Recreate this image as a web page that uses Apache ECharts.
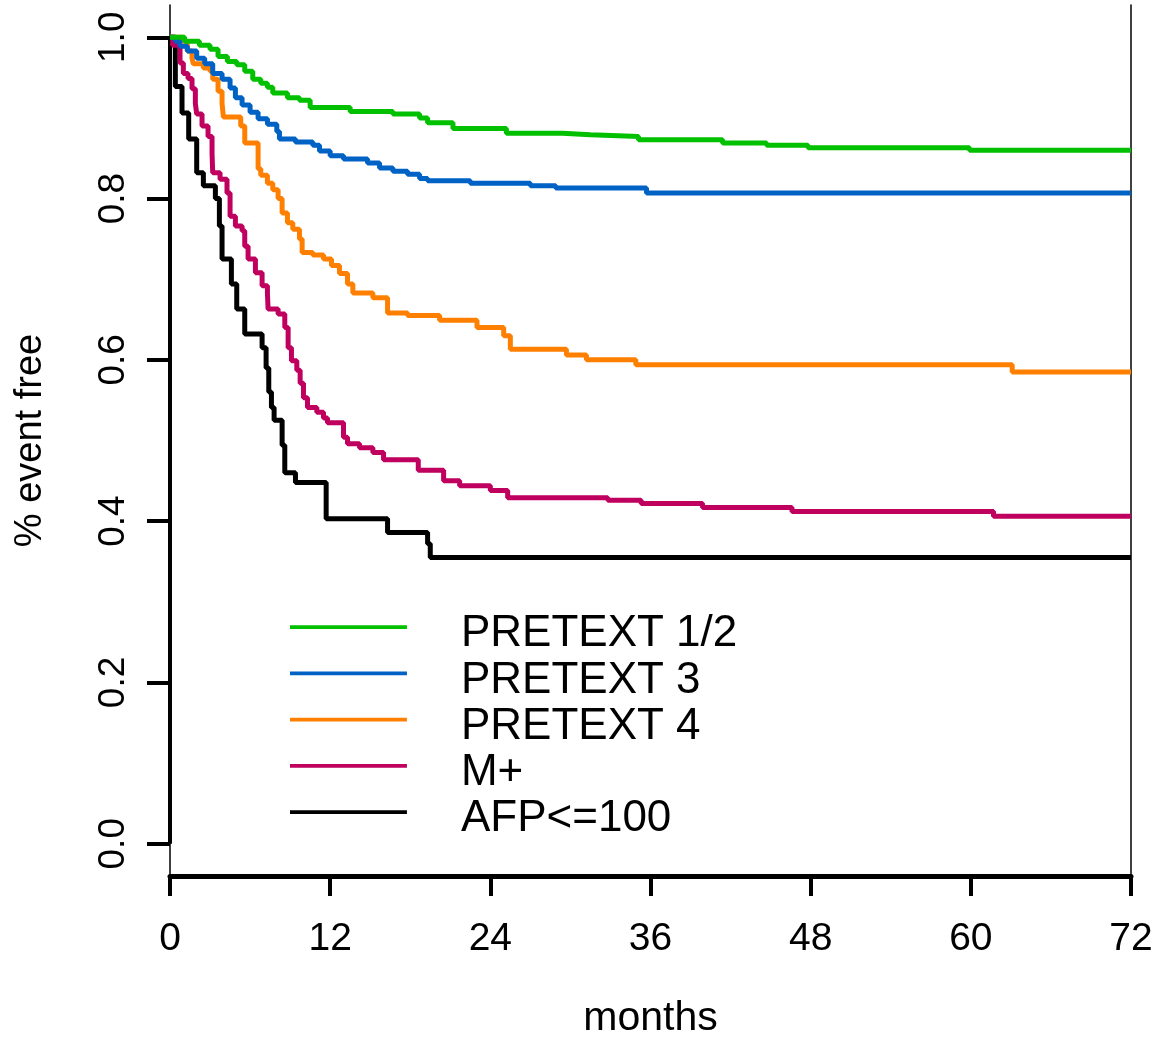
<!DOCTYPE html>
<html>
<head>
<meta charset="utf-8">
<script src="https://cdn.jsdelivr.net/npm/echarts@6/dist/echarts.min.js"></script>
<style>html,body{margin:0;padding:0;background:#fff}#chart{width:1163px;height:1037px}</style>
</head>
<body>
<div id="chart"></div>
<script>
// ---- data ----
const xTicks = [0, 12, 24, 36, 48, 60, 72];
const yTicks = [0, 0.2, 0.4, 0.6, 0.8, 1.0];
const seriesNames = ['PRETEXT 1/2', 'PRETEXT 3', 'PRETEXT 4', 'M+', 'AFP<=100'];
const seriesColors = ['#00c000', '#0062c4', '#ff8000', '#c0005f', '#000000'];

const p12Months = [0, 1.1, 2.2, 3.0, 3.6, 4.3, 5.0, 5.6, 6.2, 6.8, 7.3, 7.7, 8.8, 9.7, 10.5, 13.5, 16.7, 18.7, 19.3, 21.2, 25.2, 29.4, 31.5, 35.1, 41.4, 44.7, 47.8, 59.9, 72];
const p12Surv   = [1.0, 0.995, 0.99, 0.985, 0.976, 0.970, 0.966, 0.958, 0.948, 0.943, 0.938, 0.931, 0.925, 0.922, 0.913, 0.908, 0.905, 0.900, 0.894, 0.887, 0.881, 0.879, 0.877, 0.873, 0.869, 0.866, 0.863, 0.860, 0.860];

const p3Months = [0, 0.4, 0.75, 1.3, 2.0, 2.6, 3.2, 3.9, 4.5, 4.9, 5.4, 6.0, 6.6, 7.3, 8.0, 8.2, 9.4, 10.7, 11.2, 12.0, 13.0, 14.8, 15.7, 16.7, 17.8, 18.7, 19.3, 22.5, 27.0, 28.9, 35.7, 72];
const p3Surv   = [1.0, 0.995, 0.989, 0.983, 0.974, 0.967, 0.955, 0.948, 0.937, 0.925, 0.916, 0.907, 0.899, 0.892, 0.883, 0.874, 0.870, 0.866, 0.859, 0.853, 0.849, 0.844, 0.838, 0.834, 0.830, 0.825, 0.822, 0.819, 0.816, 0.813, 0.807, 0.807];

const p4Months = [0, 1.0, 1.3, 1.65, 1.75, 2.5, 3.0, 3.2, 3.6, 3.9, 4.0, 5.3, 5.6, 6.6, 6.8, 7.3, 7.7, 8.1, 8.4, 8.8, 9.2, 9.7, 9.9, 10.7, 11.5, 12.1, 12.7, 13.3, 13.7, 15.2, 16.3, 17.8, 20.2, 23.0, 25.0, 25.5, 29.7, 31.2, 34.9, 63.1, 72];
const p4Surv   = [1.0, 0.995, 0.983, 0.974, 0.967, 0.962, 0.958, 0.948, 0.933, 0.918, 0.901, 0.890, 0.869, 0.837, 0.829, 0.819, 0.811, 0.800, 0.782, 0.770, 0.762, 0.750, 0.733, 0.730, 0.725, 0.717, 0.707, 0.694, 0.683, 0.677, 0.658, 0.655, 0.649, 0.640, 0.630, 0.613, 0.606, 0.600, 0.594, 0.585, 0.585];

const mMonths = [0, 0.2, 0.75, 1.0, 1.35, 1.65, 1.9, 2.0, 2.4, 2.85, 3.15, 3.2, 3.75, 4.27, 4.5, 4.9, 5.4, 5.6, 5.85, 6.4, 6.9, 7.3, 7.35, 8.1, 8.6, 8.85, 9.1, 9.5, 9.75, 10.0, 10.3, 11.0, 11.5, 11.8, 13.0, 13.3, 14.2, 15.2, 16.0, 18.6, 20.5, 21.7, 24.0, 25.3, 32.8, 35.3, 39.9, 46.6, 61.7, 72];
const mSurv   = [1.0, 0.99, 0.968, 0.955, 0.949, 0.936, 0.918, 0.905, 0.890, 0.877, 0.856, 0.832, 0.824, 0.807, 0.778, 0.766, 0.760, 0.741, 0.725, 0.708, 0.692, 0.682, 0.663, 0.657, 0.640, 0.615, 0.599, 0.587, 0.571, 0.553, 0.541, 0.535, 0.528, 0.522, 0.504, 0.496, 0.491, 0.485, 0.476, 0.463, 0.450, 0.444, 0.438, 0.429, 0.426, 0.422, 0.417, 0.412, 0.406, 0.406];

const afpMonths = [0, 0.4, 0.9, 1.4, 2.0, 2.5, 3.4, 3.7, 3.9, 4.6, 5.0, 5.6, 6.9, 7.2, 7.4, 7.6, 7.8, 8.4, 8.6, 9.4, 11.7, 16.3, 19.3, 19.5, 72];
const afpSurv   = [1.0, 0.939, 0.906, 0.874, 0.832, 0.816, 0.800, 0.766, 0.725, 0.694, 0.663, 0.632, 0.615, 0.590, 0.560, 0.541, 0.525, 0.494, 0.460, 0.448, 0.403, 0.386, 0.372, 0.355, 0.355];

const allMonths = [p12Months, p3Months, p4Months, mMonths, afpMonths];
const allSurv = [p12Surv, p3Surv, p4Surv, mSurv, afpSurv];

// ---- chart ----
const FONT = '"Liberation Sans", Arial, Helvetica, sans-serif';
const chart = echarts.init(document.getElementById('chart'), null, {renderer: 'canvas'});

const series = seriesNames.map((name, i) => ({
  name: name,
  type: 'line',
  step: 'end',
  symbol: 'none',
  silent: true,
  color: seriesColors[i],
  lineStyle: {color: seriesColors[i], width: 5},
  data: allMonths[i].map((t, k) => [t, allSurv[i][k]]),
  z: 10 - i
}));

// thick y-axis segment spanning the labelled range (R style axis line)
series[4].markLine = {
  silent: true,
  symbol: 'none',
  label: {show: false},
  lineStyle: {color: '#000', width: 4, type: 'solid'},
  data: [[{coord: [xTicks[0], yTicks[0]]}, {coord: [xTicks[0], yTicks[yTicks.length - 1]]}]]
};

const option = {
  animation: false,
  backgroundColor: '#ffffff',
  grid: {left: 170, right: 32, top: 5, bottom: 161, containLabel: false, outerBoundsMode: 'none'},
  legend: {
    orient: 'vertical',
    left: 290,
    top: 611,
    padding: 0,
    itemGap: 0,
    // a 4px bar at the top of an 18px-high icon box, so the text sits slightly below the line
    icon: 'path://M0,0H117V4H0Z M0,18H0.01V18.01H0Z',
    itemWidth: 117,
    itemHeight: 18,
    data: seriesNames,
    textStyle: {fontFamily: FONT, fontSize: 44, color: '#000', lineHeight: 46.25, padding: [0, 0, 0, 49]}
  },
  xAxis: {
    type: 'value',
    min: xTicks[0],
    max: xTicks[xTicks.length - 1],
    interval: 12,
    name: 'months',
    nameLocation: 'middle',
    nameGap: 122,
    nameTextStyle: {fontFamily: FONT, fontSize: 41, color: '#000'},
    axisLine: {show: true, onZero: false, lineStyle: {color: '#000', width: 5}},
    axisTick: {show: true, length: 20, lineStyle: {color: '#000', width: 4}},
    axisLabel: {fontFamily: FONT, fontSize: 39, color: '#000', margin: 44},
    splitLine: {show: false}
  },
  yAxis: [{
    type: 'value',
    min: -0.04,
    max: 1.04,
    name: '% event free',
    nameLocation: 'middle',
    nameRotate: 90,
    nameGap: 120,
    nameTextStyle: {fontFamily: FONT, fontSize: 38, color: '#000'},
    axisLine: {show: true, onZero: false, lineStyle: {color: '#000', width: 1.5}},
    axisTick: {show: true, length: 23, customValues: yTicks, lineStyle: {color: '#000', width: 4}},
    axisLabel: {
      fontFamily: FONT, fontSize: 37, color: '#000', rotate: 90, margin: 38,
      customValues: yTicks,
      formatter: v => Number(v).toFixed(1)
    },
    splitLine: {show: false}
  }, {
    type: 'value',
    position: 'right',
    min: -0.04,
    max: 1.04,
    axisLine: {show: true, onZero: false, lineStyle: {color: '#000', width: 1.5}},
    axisTick: {show: false},
    axisLabel: {show: false},
    splitLine: {show: false}
  }],
  series: series
};
chart.setOption(option);
</script>
</body>
</html>
